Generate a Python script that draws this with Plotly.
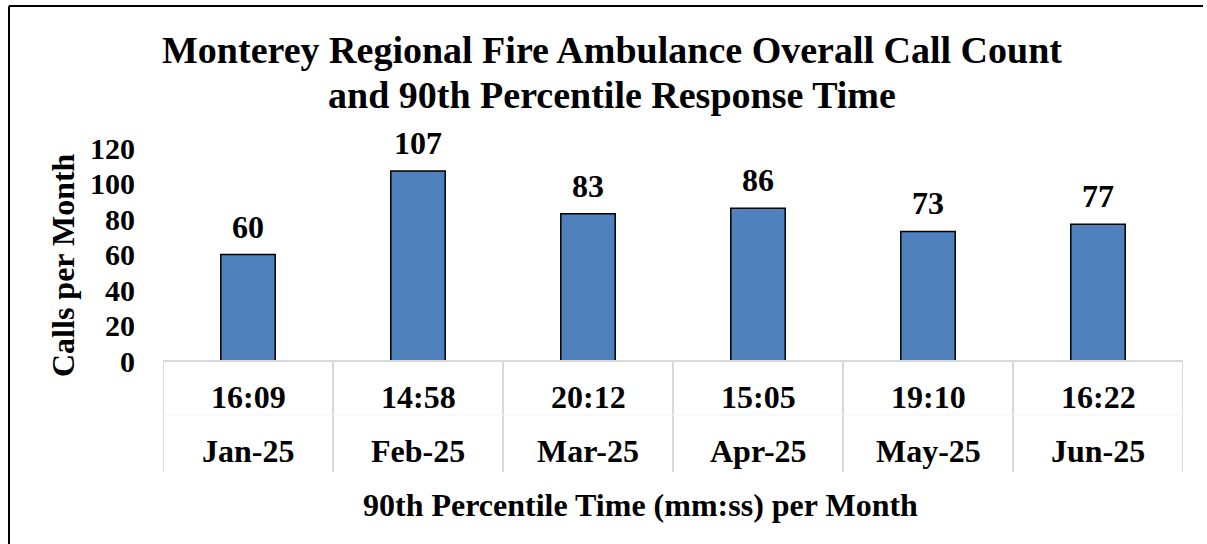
import plotly.graph_objects as go

months = ["Jan-25", "Feb-25", "Mar-25", "Apr-25", "May-25", "Jun-25"]
p90_times = ["16:09", "14:58", "20:12", "15:05", "19:10", "16:22"]
calls = [60, 107, 83, 86, 73, 77]
y_ticks = [0, 20, 40, 60, 80, 100, 120]

FONT = "Liberation Serif, Times New Roman, serif"
W, H = 1207, 544
L, R, T, B = 163, 24, 148, 183
plot_w = W - L - R
plot_h = H - T - B

def py(pix):
    return (H - B - pix) / plot_h

def px(pix):
    return (pix - L) / plot_w

x_pos = list(range(len(months)))

fig = go.Figure()
fig.add_trace(go.Bar(
    x=x_pos, y=calls, width=0.32,
    marker=dict(color="#4f81bd", line=dict(color="#000000", width=1.5)),
    cliponaxis=False, hoverinfo="skip",
))

shapes = []
for i in range(len(months) + 1):
    shapes.append(dict(type="line", xref="x", yref="paper", x0=i - 0.5, x1=i - 0.5,
                       y0=0, y1=py(472), line=dict(color="#d9d9d9", width=2)))
shapes.append(dict(type="line", xref="paper", yref="paper", x0=0, x1=1, y0=0, y1=0,
                   line=dict(color="#d9d9d9", width=2)))
shapes.append(dict(type="line", xref="paper", yref="paper", x0=0, x1=1, y0=py(415), y1=py(415),
                   line=dict(color="#f4f4f4", width=1)))
# outer frame (top and left edges visible)
shapes.append(dict(type="line", xref="paper", yref="paper",
                   x0=px(9), x1=px(1203), y0=py(6), y1=py(6),
                   line=dict(color="#000000", width=2)))
shapes.append(dict(type="line", xref="paper", yref="paper",
                   x0=px(9), x1=px(9), y0=py(6), y1=py(560),
                   line=dict(color="#000000", width=2)))

annotations = []
for i in x_pos:
    annotations.append(dict(x=i, xref="x", y=calls[i], yref="y", text="<b>%d</b>" % calls[i],
                            showarrow=False, yshift=28, yanchor="middle",
                            font=dict(family=FONT, size=32, color="#000")))
    annotations.append(dict(x=i, xref="x", y=py(397), yref="paper", text="<b>%s</b>" % p90_times[i],
                            showarrow=False, font=dict(family=FONT, size=32, color="#000"),
                            yanchor="middle"))
    annotations.append(dict(x=i, xref="x", y=py(451), yref="paper", text="<b>%s</b>" % months[i],
                            showarrow=False, font=dict(family=FONT, size=32, color="#000"),
                            yanchor="middle"))
annotations.append(dict(x=px(640), xref="paper", y=py(505), yref="paper",
                        text="<b>90th Percentile Time (mm:ss) per Month</b>", showarrow=False,
                        font=dict(family=FONT, size=32, color="#000"), yanchor="middle"))
annotations.append(dict(x=px(63), xref="paper", y=py(265), yref="paper",
                        text="<b>Calls per Month</b>", showarrow=False, textangle=-90,
                        font=dict(family=FONT, size=32, color="#000"),
                        xanchor="center", yanchor="middle"))
annotations.append(dict(x=px(612), xref="paper", y=py(50), yref="paper",
                        text="<b>Monterey Regional Fire Ambulance Overall Call Count</b>",
                        showarrow=False, font=dict(family=FONT, size=38, color="#000"),
                        xanchor="center", yanchor="middle"))
annotations.append(dict(x=px(612), xref="paper", y=py(95), yref="paper",
                        text="<b>and 90th Percentile Response Time</b>",
                        showarrow=False, font=dict(family=FONT, size=38, color="#000"),
                        xanchor="center", yanchor="middle"))

fig.update_layout(
    width=W, height=H,
    margin=dict(l=L, r=R, t=T, b=B),
    paper_bgcolor="#ffffff", plot_bgcolor="#ffffff",
    showlegend=False,
    shapes=shapes, annotations=annotations,
    xaxis=dict(range=[-0.5, len(months) - 0.5], showticklabels=False, showgrid=False,
               zeroline=False, showline=False, fixedrange=True),
    yaxis=dict(range=[0, 120], tickvals=y_ticks, showgrid=False, zeroline=False,
               showline=False, ticks="", ticklabelstandoff=27, fixedrange=True,
               tickfont=dict(family=FONT, size=30, color="#000", weight="bold")),
)

fig.write_html("out.html", config={"displayModeBar": False},
               post_script="document.body.style.margin='0';document.body.style.overflow='hidden';")
